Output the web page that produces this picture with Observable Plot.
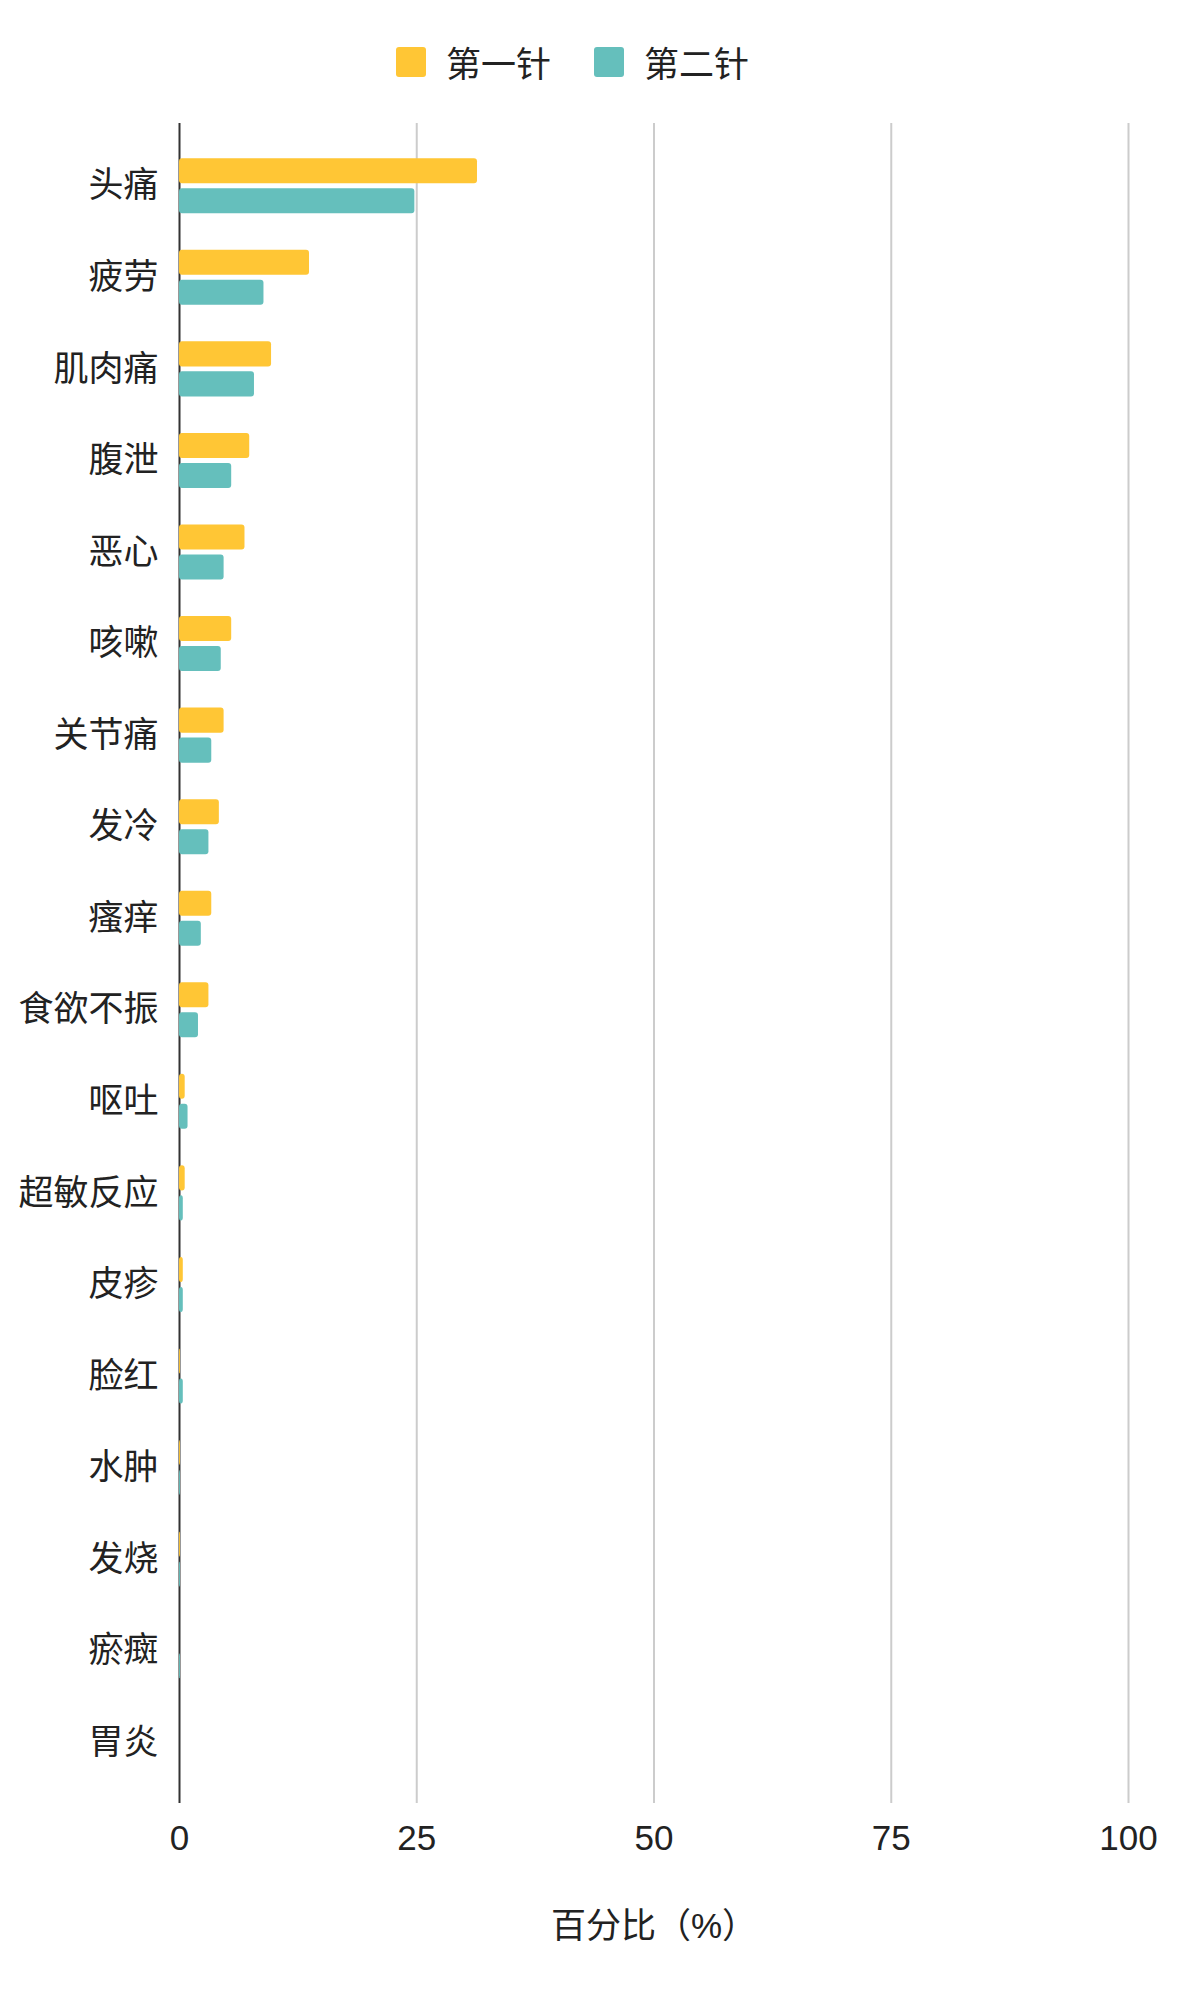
<!DOCTYPE html>
<html>
<head>
<meta charset="utf-8">
<script src="https://cdn.jsdelivr.net/npm/d3@7"></script>
<script src="https://cdn.jsdelivr.net/npm/@observablehq/plot@0.6"></script>
<style>
  body { margin: 0; background: #fff; font-family: "Liberation Sans", "Noto Sans CJK SC", sans-serif; }
  #legend { position: relative; width: 1180px; height: 100px; }
  .item { position: absolute; top: 47px; height: 30px; display: flex; align-items: center; font-family: "Noto Sans CJK SC", sans-serif; font-size: 35px; line-height: 30px; color: #222; white-space: nowrap; }
  .sw { width: 30px; height: 30px; border-radius: 3px; margin-right: 20px; flex: none; }
  #chart svg { display: block; }
</style>
</head>
<body>
<div id="legend"></div>
<div id="chart"></div>
<script>
const categories = ["头痛", "疲劳", "肌肉痛", "腹泄", "恶心", "咳嗽", "关节痛", "发冷", "瘙痒", "食欲不振", "呕吐", "超敏反应", "皮疹", "脸红", "水肿", "发烧", "瘀癍", "胃炎"];
const dose1 = [31.4, 13.7, 9.7, 7.4, 6.9, 5.5, 4.7, 4.2, 3.4, 3.1, 0.6, 0.6, 0.4, 0.1, 0.1, 0.1, 0, 0];
const dose2 = [24.8, 8.9, 7.9, 5.5, 4.7, 4.4, 3.4, 3.1, 2.3, 2.0, 0.9, 0.4, 0.4, 0.4, 0.1, 0.1, 0.1, 0];
const seriesNames = ["第一针", "第二针"];
const seriesColors = ["#FFC635", "#65BFBC"];
const xTicks = [0, 25, 50, 75, 100];
const xLabel = "百分比（%）";

const rows1 = categories.map((c, i) => ({category: c, series: seriesNames[0], value: dose1[i]}));
const rows2 = categories.map((c, i) => ({category: c, series: seriesNames[1], value: dose2[i]}));

// legend
const legend = document.getElementById("legend");
const legendLeft = [396, 594];
seriesNames.forEach((name, i) => {
  const item = document.createElement("div");
  item.className = "item";
  item.style.left = legendLeft[i] + "px";
  const sw = document.createElement("div");
  sw.className = "sw";
  sw.style.background = seriesColors[i];
  const label = document.createElement("span");
  label.textContent = name;
  item.appendChild(sw);
  item.appendChild(label);
  legend.appendChild(item);
});

const chart = Plot.plot({
  width: 1180,
  height: 1900,
  marginTop: 23,
  marginBottom: 197,
  marginLeft: 179,
  marginRight: 52,
  style: {
    fontSize: "35px",
    fontFamily: '"Liberation Sans", "Noto Sans CJK SC", sans-serif',
    color: "#222",
    background: "#fff",
    overflow: "visible"
  },
  x: {domain: [0, 100], ticks: xTicks},
  y: {domain: categories, paddingInner: 0.7265, paddingOuter: 0.36325, insetTop: 17, insetBottom: 15, round: false},
  color: {domain: seriesNames, range: seriesColors},
  marks: [
    Plot.gridX(xTicks.filter(t => t > 0), {stroke: "#cccccc", strokeOpacity: 1, strokeWidth: 2}),
    Plot.ruleX([0], {stroke: "#333", strokeWidth: 2}),
    Plot.barX(rows1, {x: "value", y: "category", fill: "series", dy: -15, rx: 3}),
    Plot.barX(rows2, {x: "value", y: "category", fill: "series", dy: 15, rx: 3}),
    Plot.axisX({ticks: xTicks, tickSize: 0, tickPadding: 22, label: null}),
    Plot.axisY({tickSize: 0, tickPadding: 21, label: null}),
    Plot.text([xLabel], {frameAnchor: "bottom", lineAnchor: "middle", dy: 123, text: d => d, fontSize: 35})
  ]
});
document.getElementById("chart").appendChild(chart);
</script>
</body>
</html>
